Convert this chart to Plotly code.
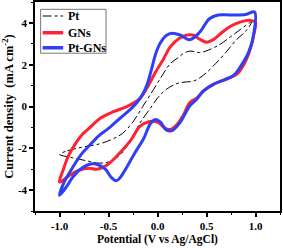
import plotly.graph_objects as go

# Pt (dash-dot) loop: forward sweep then reverse sweep
pt_x = [-1.0, -0.92, -0.84, -0.72, -0.6, -0.48, -0.36, -0.245, -0.15, -0.04, 0.05, 0.13, 0.2, 0.27, 0.33, 0.43, 0.52, 0.64, 0.75, 0.85, 0.96,
        0.9, 0.81, 0.7, 0.57, 0.47, 0.37, 0.28, 0.2, 0.09, 0.0, -0.08, -0.18, -0.26, -0.36, -0.45, -0.53, -0.62, -0.72, -0.87, -1.0]
pt_y = [-2.29, -2.12, -2.02, -1.9, -1.8, -1.6, -1.3, -0.7, 0.0, 0.82, 1.5, 2.05, 2.3, 2.55, 2.65, 2.58, 2.7, 2.98, 3.35, 3.7, 4.05,
        3.6, 3.22, 2.6, 1.94, 1.5, 1.22, 1.17, 1.1, 0.82, 0.4, -0.13, -0.8, -1.5, -2.21, -2.55, -2.69, -2.7, -2.6, -2.45, -2.29]

# GNs loop
gn_x = [-1.0, -0.96, -0.91, -0.84, -0.77, -0.7, -0.58, -0.45, -0.32, -0.25, -0.18, -0.1, -0.025, 0.06, 0.13, 0.22, 0.3, 0.36, 0.43, 0.5, 0.57, 0.66, 0.75, 0.85, 0.95, 1.0,
        0.99, 0.95, 0.88, 0.81, 0.7, 0.57, 0.47, 0.4, 0.33, 0.26, 0.2, 0.13, 0.07, 0.02, -0.03, -0.08, -0.18, -0.27, -0.4, -0.53, -0.62, -0.7, -0.8, -0.9, -1.0]
gn_y = [-3.62, -3.0, -2.37, -1.8, -1.35, -1.05, -0.55, -0.25, -0.02, 0.15, 0.38, 0.95, 1.6, 2.26, 2.85, 3.25, 3.42, 3.42, 3.22, 3.08, 3.2, 3.55, 3.85, 4.05, 4.12, 4.02,
        3.6, 2.8, 2.0, 1.55, 1.3, 1.06, 0.75, 0.4, 0.19, -0.45, -0.85, -1.1, -1.02, -0.8, -0.72, -0.72, -0.95, -1.6, -2.3, -2.85, -3.0, -2.95, -3.05, -3.3, -3.62]

# Pt-GNs loop
ptgn_x = [-1.0, -0.95, -0.87, -0.78, -0.7, -0.6, -0.5, -0.38, -0.28, -0.21, -0.15, -0.11, -0.06, -0.02, 0.03, 0.09, 0.15, 0.23, 0.33, 0.43, 0.53, 0.62, 0.75, 0.9, 0.99,
          0.975, 0.93, 0.84, 0.78, 0.68, 0.57, 0.47, 0.4, 0.33, 0.23, 0.15, 0.09, 0.03, -0.02, -0.07, -0.145, -0.23, -0.32, -0.38, -0.42, -0.47, -0.53, -0.6, -0.68, -0.78, -0.86, -0.93, -1.0]
ptgn_y = [-4.25, -3.6, -2.95, -2.3, -1.89, -1.4, -1.05, -0.55, -0.15, 0.19, 0.6, 1.0, 1.8, 2.5, 3.05, 3.4, 3.5, 3.42, 3.2, 3.55, 4.2, 4.38, 4.38, 4.4, 4.52,
          3.3, 2.6, 1.86, 1.5, 1.28, 1.06, 0.75, 0.35, 0.03, -0.77, -1.15, -1.12, -0.75, -0.62, -0.8, -1.57, -2.21, -2.95, -3.4, -3.55, -3.4, -3.01, -2.8, -2.75, -2.98, -3.35, -3.85, -4.25]

series_names = ["Pt", "GNs", "Pt-GNs"]
series_colors = ["black", "#ff2232", "#2f3ff5"]

x_tickvals = [-1.0, -0.5, 0.0, 0.5, 1.0]
x_ticktext = ["-1.0", "-0.5", "0.0", "0.5", "1.0"]
y_tickvals = [-4, -2, 0, 2, 4]
y_ticktext = ["-4", "-2", "0", "2", "4"]

FONT = "Liberation Serif"

fig = go.Figure()
fig.add_trace(go.Scatter(x=pt_x, y=pt_y, mode="lines", name=series_names[0],
                         line=dict(color=series_colors[0], width=1, dash="dashdot", shape="spline", smoothing=1.0)))
fig.add_trace(go.Scatter(x=gn_x, y=gn_y, mode="lines", name=series_names[1],
                         line=dict(color=series_colors[1], width=3, shape="spline", smoothing=1.0)))
fig.add_trace(go.Scatter(x=ptgn_x, y=ptgn_y, mode="lines", name=series_names[2],
                         line=dict(color=series_colors[2], width=3, shape="spline", smoothing=1.0)))

# compact legend box (paper coordinates of the plot area)
box = dict(x0=0.023, x1=0.29, y0=0.755, y1=0.965)
rows = [0.933, 0.853, 0.781]
shapes = [dict(type="rect", xref="paper", yref="paper", layer="above",
               fillcolor="white", line=dict(color="#777777", width=1), **box)]
annotations = []
for name, col, ry, w, dash in zip(series_names, series_colors, rows, [1, 3.5, 3.5], ["dashdot", "solid", "solid"]):
    shapes.append(dict(type="line", xref="paper", yref="paper", layer="above",
                       x0=0.031, x1=0.115, y0=ry, y1=ry, line=dict(color=col, width=w, dash=dash)))
    annotations.append(dict(xref="paper", yref="paper", x=0.126, y=ry, text=name, showarrow=False,
                            xanchor="left", yanchor="middle",
                            font=dict(family=FONT, size=12, color="black", weight="bold")))

fig.update_layout(
    width=283, height=248,
    margin=dict(l=35, r=3, t=2, b=37, autoexpand=False),
    paper_bgcolor="white", plot_bgcolor="white",
    font=dict(family=FONT, size=11, color="black", weight="bold"),
    showlegend=False,
    shapes=shapes, annotations=annotations,
)
fig.update_xaxes(range=[-1.25, 1.25], showgrid=False, zeroline=False, automargin=False,
                 showline=True, linecolor="black", linewidth=1.5, mirror=True,
                 ticks="outside", ticklen=4, tickwidth=1.5, tickcolor="black",
                 tickvals=x_tickvals, ticktext=x_ticktext,
                 minor=dict(dtick=0.25, tick0=0, ticks="outside", ticklen=2.5, tickwidth=1, tickcolor="black"),
                 title=dict(text="Potential (V vs Ag/AgCl)", standoff=4,
                            font=dict(family=FONT, size=11.5, weight="bold")),
                 tickfont=dict(family=FONT, size=11, weight="bold"))
fig.update_yaxes(range=[-5, 5], showgrid=False, zeroline=False, automargin=False,
                 showline=True, linecolor="black", linewidth=1.5, mirror=True,
                 ticks="outside", ticklen=4, tickwidth=1.5, tickcolor="black",
                 tickvals=y_tickvals, ticktext=y_ticktext,
                 minor=dict(dtick=1, tick0=0, ticks="outside", ticklen=2.5, tickwidth=1, tickcolor="black"),
                 title=dict(text="Current density  (mA cm<sup>-2</sup>)", standoff=6,
                            font=dict(family=FONT, size=12.5, weight="bold")),
                 tickfont=dict(family=FONT, size=11, weight="bold"))

fig.write_html("out.html", config={"displayModeBar": False},
               post_script="document.body.style.margin='0';document.body.style.padding='0';document.body.style.overflow='hidden';")
